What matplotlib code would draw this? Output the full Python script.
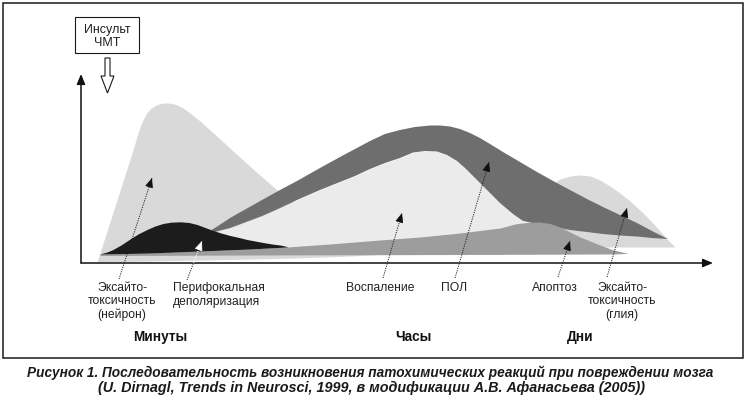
import matplotlib
matplotlib.use("Agg")
import matplotlib.pyplot as plt
from matplotlib import font_manager as fm
from matplotlib.patches import Rectangle, Polygon
import numpy as np

# ---------------- data (t = time from onset, h = intensity) ----------------
# Excitotoxicity (neurons) - light grey peak
neuron_t   = [16, 36, 52, 57, 61, 65, 69, 74, 79, 84, 89, 95, 102, 109, 119, 129, 139, 152, 172, 196, 229, 269, 309]
neuron_top = [1, 63, 113, 130, 141, 149, 154, 157.5, 159.5, 160, 159.8, 158.5, 155, 150, 142, 133, 124, 112, 94, 73, 51, 28, 11]
neuron_bot = [1, 1.4, 1.7, 1.8, 1.8, 1.9, 2, 2.1, 2.2, 2.3, 2.4, 2.5, 2.6, 2.7, 2.9, 3.1, 3.3, 3.6, 4, 4.5, 5.5, 7, 9]

# Peri-infarct depolarisation - black hump
peri_t   = [19, 26, 32, 40, 49, 57, 66, 74, 82, 90, 99, 108, 116, 124, 132, 140, 149, 158, 166, 174, 182, 191, 199, 206]
peri_top = [9, 11, 13.5, 18, 24, 29, 33.5, 37, 39.5, 40.8, 41.2, 40.5, 38.5, 35.5, 32.5, 30, 27.5, 25.5, 23.5, 22, 20.5, 19, 18, 16.5]

# Lipid peroxidation (ПОЛ) - dark grey band (upper and lower edges)
pol_up_t = [124, 137, 149, 165, 181, 199, 216, 239, 259, 274, 289, 304, 319, 334, 349, 359, 369, 379, 389, 399,
            409, 422, 439, 456, 474, 489, 506, 522, 539, 556, 571, 587]
pol_up_h = [29, 37, 45, 54, 63, 73, 82, 95, 106, 114, 122, 129, 133, 136, 137.5, 137.5, 136.5, 134, 130, 125,
            119, 111, 101, 91, 81, 73, 64, 56, 48, 40, 32, 24]
pol_lo_t = [124, 137, 149, 165, 181, 199, 216, 239, 259, 274, 289, 304, 319, 332, 344, 356, 366, 376, 384, 394,
            406, 419, 432, 442, 456, 474, 489, 506, 522, 539, 556, 571, 587]
pol_lo_h = [27, 32, 35, 41, 47, 55, 63, 73, 81, 87, 94, 100, 105, 110.5, 112, 111.5, 108, 102, 95, 85,
            73, 60, 49, 42, 39, 36, 33, 31, 29, 27.5, 26.5, 25, 24]

# Inflammation - very light area under the ПОЛ band, up to where the band meets apoptosis
infl_t_max = 442

# Apoptosis - medium grey wedge
apo_t   = [19, 69, 119, 169, 206, 249, 299, 339, 379, 419, 434, 446, 459, 469, 479, 489, 499, 509, 519, 531, 547]
apo_top = [9, 10, 12, 14, 16, 19, 23, 26, 30, 35, 39, 40.7, 41, 39.5, 36, 31, 26, 22, 18, 13.5, 9.5]
apo_bot = [7.5, 7.6, 7.8, 8, 8.1, 8.2, 8.3, 8.4, 8.5, 8.6, 8.7, 8.7, 8.8, 8.8, 8.8, 8.9, 8.9, 9, 9, 9, 9.5]

# Excitotoxicity (glia) - light grey late peak
glia_t   = [464, 471, 479, 489, 499, 509, 519, 529, 539, 549, 559, 569, 579, 587, 594]
glia_top = [73, 79, 84, 87, 88, 87, 83, 77, 70, 62, 53, 43, 32, 23, 16]
glia_bot = 16

# Pointer arrows: (tail t, tail h, head t, head h, colour of upper part)
arrows = {
    "neuron":  (38, -16, 71, 85, "black"),
    "peri":    (106, -17, 121, 22, "white"),
    "infl":    (302, -15, 321, 50, "black"),
    "pol":     (374, -15, 408, 101, "black"),
    "apo":     (477, -14, 489, 22, "black"),
    "glia":    (526, -14, 546, 55, "black"),
}

labels = [
    ("Эксайто-\nтоксичность\n(нейрон)", 122, "center"),
    ("Перифокальная\nдеполяризация", 173, "left"),
    ("Воспаление", 380, "center"),
    ("ПОЛ", 454, "center"),
    ("Апоптоз", 555, "center"),
    ("Эксайто-\nтоксичность\n(глия)", 622, "center"),
]
time_labels = [("Минуты", 160), ("Часы", 413), ("Дни", 580)]
caption = ["Рисунок 1. Последовательность возникновения патохимических реакций при повреждении мозга",
           "(U. Dirnagl, Trends in Neurosci, 1999, в модификации А.В. Афанасьева (2005))"]

# ---------------- colours ----------------
C_LIGHT = "#d9d9d9"
C_INFL = "#ebebeb"
C_DARK = "#6e6e6e"
C_MED = "#9d9d9d"
C_BLACK = "#1c1c1c"

W, H, DPI = 748, 398, 100
def has_font(name):
    try:
        fm.findfont(fm.FontProperties(family=name), fallback_to_default=False)
        return True
    except Exception:
        return False
FONT = "Liberation Sans" if has_font("Liberation Sans") else "DejaVu Sans"
CAP_FONT = "Liberation Sans Narrow" if has_font("Liberation Sans Narrow") else FONT
plt.rcParams["font.family"] = [FONT, "DejaVu Sans"]

fig = plt.figure(figsize=(W / DPI, H / DPI), dpi=DPI)
bg = fig.add_axes([0, 0, 1, 1])
bg.set_xlim(0, W); bg.set_ylim(H, 0); bg.axis("off")

# frame
bg.add_patch(Rectangle((3, 3), 740, 355, fill=False, lw=1.1, ec="#1a1a1a"))
# Stroke box
bg.add_patch(Rectangle((75, 17), 64, 36, fill=False, lw=0.8, ec="#1a1a1a"))
bg.text(107, 30, "Инсульт", ha="center", va="center", fontsize=9, color="#222")
bg.text(107, 43, "ЧМТ", ha="center", va="center", fontsize=9, color="#222")
bg.add_patch(Polygon([(105, 58), (110, 58), (110, 76), (114, 76), (107.5, 93), (101, 76), (105, 76)],
                     closed=True, fc="white", ec="#1a1a1a", lw=0.8))

# chart axes: origin at (81, 263) px
ax = fig.add_axes([81 / W, (H - 263) / H, 632 / W, 189 / H])
ax.set_xlim(0, 632); ax.set_ylim(0, 189)
ax.axis("off")
ax.patch.set_alpha(0)

ax.fill_between(neuron_t, neuron_bot, neuron_top, color=C_LIGHT, lw=0, zorder=1)
ax.fill_between(glia_t, glia_bot, glia_top, color=C_LIGHT, lw=0, zorder=2)
it = np.array([t for t in pol_lo_t if t <= infl_t_max])
il = np.array(pol_lo_h[:len(it)])
ax.fill_between(it, np.interp(it, apo_t, apo_top) - 1, il, color=C_INFL, lw=0, zorder=3)
ax.fill(np.r_[pol_up_t, pol_lo_t[::-1]], np.r_[pol_up_h, pol_lo_h[::-1]], color=C_DARK, lw=0, zorder=4)
ax.fill_between(apo_t, apo_bot, apo_top, color=C_MED, lw=0, zorder=5)
ax.fill_between(peri_t, np.interp(peri_t, apo_t, apo_top), peri_top, color=C_BLACK, lw=0, zorder=6)

# axes arrows
for xy in [(0, 189), (632, 0)]:
    ax.annotate("", xy=xy, xytext=(0, 0), xycoords="data",
                arrowprops=dict(arrowstyle="-|>,head_length=0.6,head_width=0.25", color="#111", lw=1.1,
                                shrinkA=0, shrinkB=0), annotation_clip=False, zorder=8)

# pointer arrows
for key, (t0, h0, t1, h1, col) in arrows.items():
    dt, dh = t1 - t0, h1 - h0
    if col == "white":
        f = (0 - h0) / dh
        tm = t0 + f * dt
        ax.plot([t0, tm], [h0, 0], ls=(0, (1.2, 1.2)), lw=0.7, color="#222", clip_on=False, zorder=9)
        ax.plot([tm, t1], [0, h1], ls=(0, (1.2, 1.2)), lw=0.7, color="white", clip_on=False, zorder=9)
    else:
        ax.plot([t0, t1], [h0, h1], ls=(0, (1.2, 1.2)), lw=0.7, color="#222", clip_on=False, zorder=9)
    L = np.hypot(dt, dh)
    ax.annotate("", xy=(t1, h1), xytext=(t1 - dt / L * 9, h1 - dh / L * 9),
                arrowprops=dict(arrowstyle="-|>,head_length=0.6,head_width=0.25",
                                color="white" if col == "white" else "#111", lw=0.5,
                                shrinkA=0, shrinkB=0), annotation_clip=False, zorder=10)

# labels
for txt, x, ha in labels:
    for i, line in enumerate(txt.split("\n")):
        bg.text(x, 288 + 13.5 * i, line, ha=ha, va="center", fontsize=8.7, color="#222")
for txt, x in time_labels:
    bg.text(x, 337, txt, ha="center", va="center", fontsize=9.8, fontweight="bold", color="#111")

# caption, fitted to reference width
targets = [(370, 373, 690), (372, 388, 550)]
fig.canvas.draw()
r = fig.canvas.get_renderer()
for line, (cx, cy, tw) in zip(caption, targets):
    t = bg.text(cx, cy, line, ha="center", va="center", fontsize=9.5, fontweight="bold",
                fontstyle="italic", family=[CAP_FONT, "DejaVu Sans"], color="#1a1a1a")
    w = t.get_window_extent(renderer=r).width
    t.set_fontsize(9.5 * tw / w)

fig.savefig("out.png", dpi=DPI)
